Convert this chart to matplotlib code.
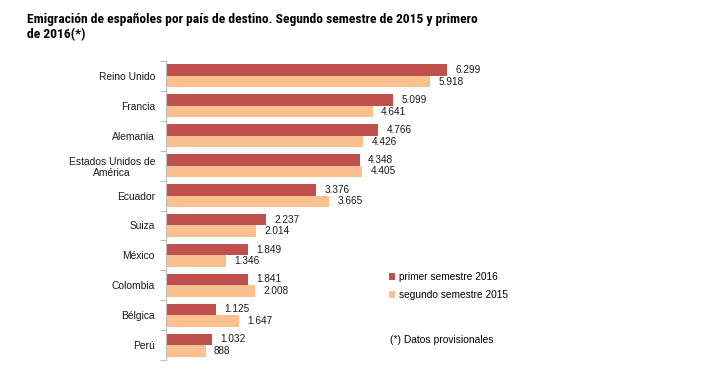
import matplotlib.pyplot as plt
import numpy as np

plt.rcParams['font.family'] = ['Liberation Sans', 'DejaVu Sans']

paises = ['Reino Unido', 'Francia', 'Alemania', 'Estados Unidos de\nAmérica', 'Ecuador',
          'Suiza', 'México', 'Colombia', 'Bélgica', 'Perú']
primer_2016 = [6299, 5099, 4766, 4348, 3376, 2237, 1849, 1841, 1125, 1032]
segundo_2015 = [5918, 4641, 4426, 4405, 3665, 2014, 1346, 2008, 1647, 888]

rojo = '#C0504D'
naranja = '#FAC08F'


def miles(v):
    # separador de miles con punto
    return f'{v:,}'.replace(',', '.')


fig = plt.figure(figsize=(7.02, 3.82), dpi=100)
ax = fig.add_axes([166/702, 1 - 360/382, 312/702, 299/382])

y = np.arange(len(paises))
h = 0.385
ax.barh(y - h/2, primer_2016, height=h, color=rojo, label='primer semestre 2016')
ax.barh(y + h/2, segundo_2015, height=h, color=naranja, label='segundo semestre 2015')

for yy, v in zip(y, primer_2016):
    ax.annotate(miles(v), (v, yy - h/2), xytext=(6, 0), textcoords='offset points',
                va='center', ha='left', fontsize=7.2, color='#1a1a1a')
for yy, v in zip(y, segundo_2015):
    ax.annotate(miles(v), (v, yy + h/2), xytext=(6, 0), textcoords='offset points',
                va='center', ha='left', fontsize=7.2, color='#1a1a1a')

ax.set_xlim(0, 7000)
ax.set_ylim(len(paises) - 0.5, -0.5)
ax.set_yticks(y)
ax.set_yticklabels(paises, fontsize=7.4, multialignment='center', color='#1a1a1a')
ax.set_yticks(np.arange(-0.5, len(paises)), minor=True)
ax.tick_params(axis='y', which='major', length=0, pad=8)
ax.tick_params(axis='y', which='minor', length=4, color='#BFBFBF', width=0.8)
ax.set_xticks([])
for s in ['top', 'right', 'bottom']:
    ax.spines[s].set_visible(False)
ax.spines['left'].set_color('#BFBFBF')
ax.spines['left'].set_linewidth(0.8)

ax.legend(loc='upper left', bbox_to_anchor=(385/702, 1 - 268/382), bbox_transform=fig.transFigure,
          frameon=False, fontsize=7.3, handlelength=0.6, handleheight=0.6, handletextpad=0.4,
          labelspacing=0.8, borderaxespad=0)

fig.text(390/702, 1 - 340/382, '(*) Datos provisionales', fontsize=7.4, va='center', ha='left')

fig.text(27/702, 1 - 13/382, 'Emigración de españoles por país de destino. Segundo semestre de 2015 y primero\nde 2016(*)',
         fontsize=9.7, fontweight='bold', va='top', ha='left', linespacing=1.15,
         family=['Liberation Sans Narrow', 'Roboto Condensed', 'Archivo Narrow', 'DejaVu Sans'])

fig.savefig('out.png', dpi=100)
